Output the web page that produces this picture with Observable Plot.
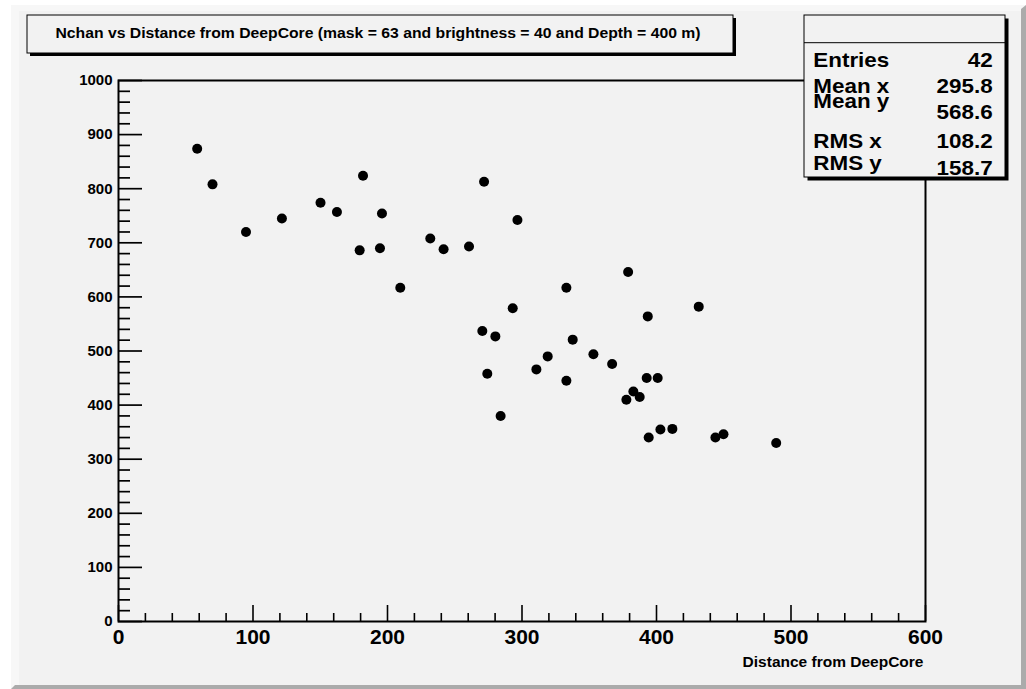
<!DOCTYPE html>
<html>
<head>
<meta charset="utf-8">
<script src="https://cdn.jsdelivr.net/npm/d3@7"></script>
<script src="https://cdn.jsdelivr.net/npm/@observablehq/plot@0.6"></script>
<style>
  body { margin: 0; background: #fff; }
  #chart svg { display: block; }
</style>
</head>
<body>
<div id="chart"></div>
<script>
// ---- data ----
const distance = [58.5, 69.9, 94.8, 121.5, 150.2, 162.4, 181.8, 195.9, 179.3, 194.4,
  209.5, 231.8, 241.7, 260.6, 271.8, 296.6, 293.1, 270.5, 280.2, 274.2,
  310.7, 319.1, 284.1, 378.9, 333.0, 431.4, 393.5, 337.7, 353.1, 367.0,
  333.0, 392.7, 400.9, 382.8, 387.5, 377.6, 402.9, 411.8, 394.2, 443.8,
  449.8, 489.0];
const nchan = [874, 808, 720, 745, 774, 757, 824, 754, 686, 690,
  617, 708, 688, 693, 813, 742, 579, 537, 527, 458,
  466, 490, 380, 646, 617, 582, 564, 521, 494, 476,
  445, 450, 450, 425, 415, 410, 355, 356, 340, 340,
  346, 330];
const xTickValues = [0, 100, 200, 300, 400, 500, 600];
const yTickValues = [0, 100, 200, 300, 400, 500, 600, 700, 800, 900, 1000];
const titleText = "Nchan vs Distance from DeepCore (mask = 63 and brightness = 40 and Depth = 400 m)";
const xTitle = "Distance from DeepCore";
const statLabels = ["Entries", "Mean x", "Mean y", "RMS x", "RMS y"];
const statValues = ["42", "295.8", "568.6", "108.2", "158.7"];

// ---- layout ----
const W = 1026, H = 689;
const mL = 118, mR = 101, mT = 80, mB = 68;
const fw = W - mL - mR, fh = H - mT - mB;
const xMinor = d3.range(0, 601, 20).filter(v => v % 100 !== 0);
const yMinor = d3.range(0, 1001, 20).filter(v => v % 100 !== 0);
const points = distance.map((d, i) => ({distance: d, nchan: nchan[i]}));
const font = "'Liberation Sans', Arial, Helvetica, sans-serif";

const chart = Plot.plot({
  width: W, height: H,
  marginLeft: mL, marginRight: mR, marginTop: mT, marginBottom: mB,
  style: {background: "transparent", fontFamily: font, color: "black", overflow: "visible"},
  x: {domain: [0, 600], axis: null},
  y: {domain: [0, 1000], axis: null},
  marks: [
    Plot.tickX(xMinor, {x: d => d, insetTop: fh - 8, stroke: "black", strokeWidth: 1.6}),
    Plot.tickX(xTickValues, {x: d => d, insetTop: fh - 16, stroke: "black", strokeWidth: 1.6}),
    Plot.tickY(yMinor, {y: d => d, insetRight: fw - 12, stroke: "black", strokeWidth: 1.7}),
    Plot.tickY(yTickValues, {y: d => d, insetRight: fw - 24, stroke: "black", strokeWidth: 1.7}),
    Plot.frame({stroke: "black", strokeWidth: 2}),
    Plot.dot(points, {x: "distance", y: "nchan", r: 5, fill: "black", stroke: null}),
    Plot.text(xTickValues, {x: d => d, text: d => String(d), frameAnchor: "bottom", dy: 22,
      lineAnchor: "bottom", fontSize: 21, fontWeight: "bold", fill: "black"}),
    Plot.text(yTickValues, {y: d => d, text: d => String(d), frameAnchor: "left", dx: -6,
      textAnchor: "end", lineAnchor: "middle", fontSize: 15, fontWeight: "bold", fill: "black"}),
    Plot.text([xTitle], {text: d => d, frameAnchor: "bottom-right", dx: -2, dy: 45,
      textAnchor: "end", lineAnchor: "bottom", fontSize: 15.5, fontWeight: "bold", fill: "black"})
  ]
});

const svg = d3.select(chart);
// canvas background with bevel
const bg = svg.insert("g", ":first-child");
bg.append("rect").attr("x", 0).attr("y", 0).attr("width", W).attr("height", H).attr("fill", "#ffffff");
bg.append("rect").attr("x", 11).attr("y", 5).attr("width", W - 11).attr("height", H - 5).attr("fill", "#f7f7f7");
bg.append("polygon").attr("points", `${W},5 ${W},${H} 11,${H} 15,685 1021,685 1021,9`).attr("fill", "#ababab");
bg.append("rect").attr("x", 19).attr("y", 11).attr("width", 1021 - 19).attr("height", 685 - 11).attr("fill", "#f2f2f2");

// title box
const tg = svg.append("g").attr("text-anchor", "start");
tg.append("rect").attr("x", 30).attr("y", 18).attr("width", 706).attr("height", 38).attr("fill", "black");
tg.append("rect").attr("x", 27).attr("y", 15).attr("width", 706).attr("height", 38)
  .attr("fill", "#f2f2f2").attr("stroke", "black").attr("stroke-width", 1);
tg.append("text").attr("x", 378).attr("y", 37.8).attr("text-anchor", "middle")
  .attr("font-family", font).attr("font-size", 14).attr("font-weight", "bold")
  .attr("textLength", 645).attr("lengthAdjust", "spacingAndGlyphs").text(titleText);

// stats box
const sg = svg.append("g").attr("text-anchor", "start");
sg.append("rect").attr("x", 807.5).attr("y", 18.5).attr("width", 201).attr("height", 162).attr("fill", "black");
sg.append("rect").attr("x", 804).attr("y", 15).attr("width", 201).attr("height", 162)
  .attr("fill", "#f2f2f2").attr("stroke", "black").attr("stroke-width", 1);
sg.append("line").attr("x1", 804).attr("x2", 1005).attr("y1", 42.7).attr("y2", 42.7)
  .attr("stroke", "black").attr("stroke-width", 1);
const labelBase = [67.3, 92.7, 107.8, 147.7, 170.3];
const valueBase = [67.3, 92.7, 119.3, 147.7, 175.0];
statLabels.forEach((s, i) => {
  sg.append("text").attr("transform", `translate(813.3,${labelBase[i]}) scale(1.15,1)`)
    .attr("text-anchor", "start")
    .attr("font-family", font).attr("font-size", 19.5).attr("font-weight", "bold").text(s);
  sg.append("text").attr("transform", `translate(992.7,${valueBase[i]}) scale(1.15,1)`)
    .attr("text-anchor", "end")
    .attr("font-family", font).attr("font-size", 19.5).attr("font-weight", "bold").text(statValues[i]);
});

document.getElementById("chart").appendChild(chart);
</script>
</body>
</html>
